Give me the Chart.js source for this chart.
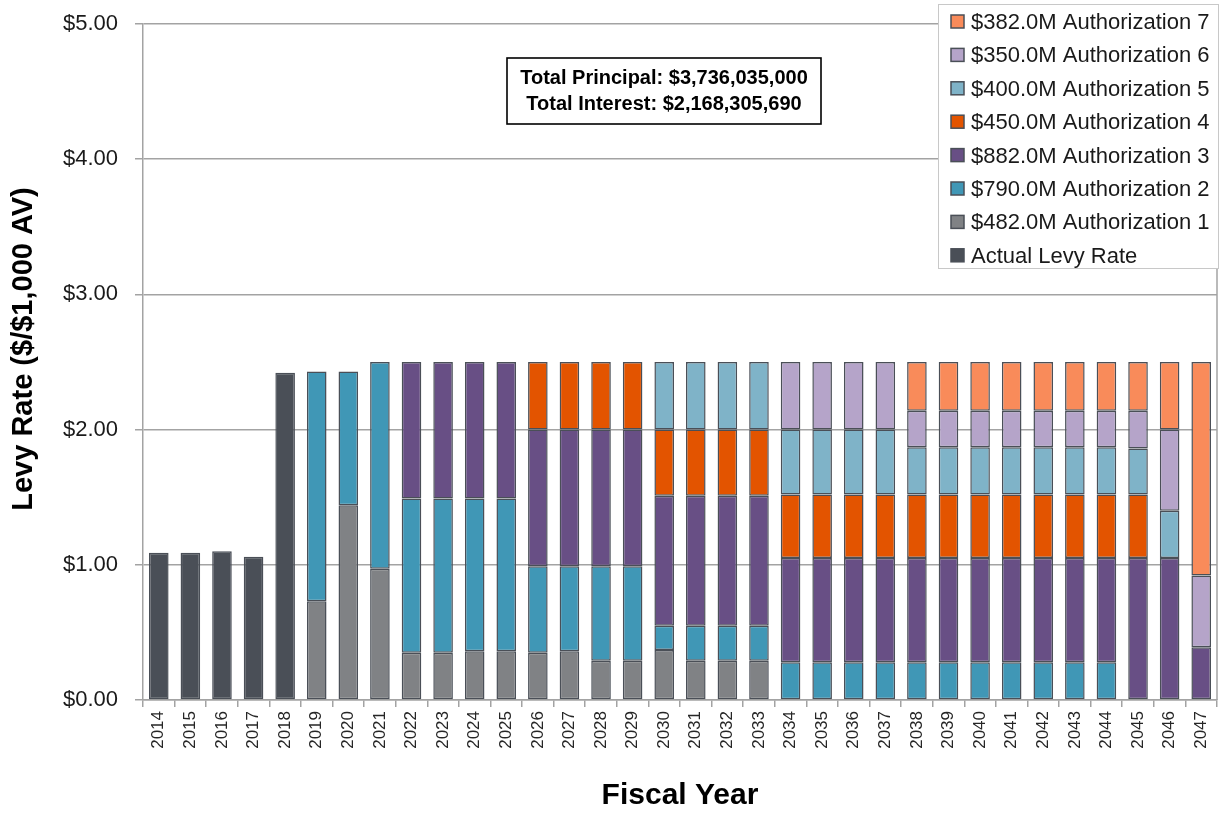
<!DOCTYPE html>
<html>
<head>
<meta charset="utf-8">
<script src="https://cdn.jsdelivr.net/npm/chart.js@4.4.1/dist/chart.umd.min.js"></script>
<style>
  html, body { margin: 0; padding: 0; background: #ffffff; }
  #wrap { width: 1225px; height: 815px; }
</style>
</head>
<body>
<div id="wrap"><canvas id="levyChart" width="1225" height="815"></canvas></div>
<script>
// Fiscal years on the category axis
const fiscalYears = ['2014','2015','2016','2017','2018','2019','2020','2021','2022','2023','2024','2025',
  '2026','2027','2028','2029','2030','2031','2032','2033','2034','2035','2036','2037','2038','2039',
  '2040','2041','2042','2043','2044','2045','2046','2047'];

// Levy rate components ($ per $1,000 assessed value), one entry per fiscal year
const actualLevy = [1.09,1.09,1.10,1.06,2.42,0,0,0,0,0,0,0,0,0,0,0,0,0,0,0,0,0,0,0,0,0,0,0,0,0,0,0,0,0];
const auth1 = [0,0,0,0,0,0.73,1.44,0.97,0.35,0.35,0.36,0.36,0.35,0.36,0.29,0.29,0.37,0.29,0.29,0.29,
  0,0,0,0,0,0,0,0,0,0,0,0,0,0];
const auth2 = [0,0,0,0,0,1.70,0.99,1.53,1.14,1.14,1.13,1.13,0.64,0.63,0.70,0.70,0.18,0.26,0.26,0.26,
  0.28,0.28,0.28,0.28,0.28,0.28,0.28,0.28,0.28,0.28,0.28,0,0,0];
const auth3 = [0,0,0,0,0,0,0,0,1.01,1.01,1.01,1.01,1.01,1.01,1.01,1.01,0.96,0.96,0.96,0.96,
  0.77,0.77,0.77,0.77,0.77,0.77,0.77,0.77,0.77,0.77,0.77,1.05,1.05,0.39];
const auth4 = [0,0,0,0,0,0,0,0,0,0,0,0,0.50,0.50,0.50,0.50,0.49,0.49,0.49,0.49,
  0.47,0.47,0.47,0.47,0.47,0.47,0.47,0.47,0.47,0.47,0.47,0.47,0,0];
const auth5 = [0,0,0,0,0,0,0,0,0,0,0,0,0,0,0,0,0.50,0.50,0.50,0.50,
  0.48,0.48,0.48,0.48,0.35,0.35,0.35,0.35,0.35,0.35,0.35,0.34,0.35,0];
const auth6 = [0,0,0,0,0,0,0,0,0,0,0,0,0,0,0,0,0,0,0,0,
  0.50,0.50,0.50,0.50,0.27,0.27,0.27,0.27,0.27,0.27,0.27,0.28,0.60,0.53];
const auth7 = [0,0,0,0,0,0,0,0,0,0,0,0,0,0,0,0,0,0,0,0,
  0,0,0,0,0.36,0.36,0.36,0.36,0.36,0.36,0.36,0.36,0.50,1.58];

// Series names, bottom of the stack first
const seriesNames = ['Actual Levy Rate','$482.0M Authorization 1','$790.0M Authorization 2',
  '$882.0M Authorization 3','$450.0M Authorization 4','$400.0M Authorization 5',
  '$350.0M Authorization 6','$382.0M Authorization 7'];
const seriesValues = [actualLevy, auth1, auth2, auth3, auth4, auth5, auth6, auth7];
const seriesColors = ['#4a4f57','#808285','#4097b6','#684f85','#e35400','#7fb3c8','#b5a4c9','#f98b5a'];

const yTickValues = [0, 1, 2, 3, 4, 5];
const yAxisTitle = 'Levy Rate ($/$1,000 AV)';
const summaryLines = ['Total Principal: $3,736,035,000', 'Total Interest: $2,168,305,690'];

const FONT = '"Liberation Sans", Arial, sans-serif';
const OUTLINE = '#4a4f57';
const AXIS_GREY = '#a3a3a3';

const datasets = seriesValues.map((vals, i) => ({
  label: seriesNames[i],
  data: vals.map(v => (v === 0 ? null : v)),
  backgroundColor: seriesColors[i],
  borderColor: i === 0 ? seriesColors[0] : OUTLINE,
  borderWidth: 1.5,
  borderSkipped: false,
  stack: 'levy',
  barPercentage: 0.62,
  categoryPercentage: 1.0
}));

// Right-hand frame line, vertical axis title, summary box and key
const overlays = {
  id: 'overlays',
  beforeDatasetsDraw(chart) {
    const { ctx, chartArea } = chart;
    ctx.save();
    ctx.strokeStyle = AXIS_GREY;
    ctx.lineWidth = 1.5;
    ctx.beginPath();
    ctx.moveTo(chartArea.right, chartArea.top);
    ctx.lineTo(chartArea.right, chartArea.bottom);
    ctx.stroke();
    ctx.restore();
  },
  afterDraw(chart) {
    const ctx = chart.ctx;
    ctx.save();

    // vertical axis title
    ctx.save();
    ctx.translate(24, 349);
    ctx.rotate(-Math.PI / 2);
    ctx.fillStyle = '#000000';
    ctx.font = 'bold 29px ' + FONT;
    ctx.textAlign = 'center';
    ctx.textBaseline = 'middle';
    ctx.fillText(yAxisTitle, 0, 0);
    ctx.restore();

    // summary box
    ctx.fillStyle = '#ffffff';
    ctx.fillRect(507, 58, 314, 66);
    ctx.strokeStyle = '#000000';
    ctx.lineWidth = 1.6;
    ctx.strokeRect(507, 58, 314, 66);
    ctx.fillStyle = '#000000';
    ctx.font = 'bold 20px ' + FONT;
    ctx.textAlign = 'center';
    ctx.textBaseline = 'middle';
    ctx.fillText(summaryLines[0], 664, 78);
    ctx.fillText(summaryLines[1], 664, 104);

    // key, top series first
    ctx.fillStyle = '#ffffff';
    ctx.fillRect(938, 4, 280, 264);
    ctx.strokeStyle = '#c8c8c8';
    ctx.lineWidth = 1;
    ctx.strokeRect(938.5, 4.5, 280, 264);
    ctx.textAlign = 'left';
    ctx.font = '22px ' + FONT;
    const items = chart.data.datasets.slice().reverse();
    items.forEach((d, i) => {
      const cy = 22 + i * 33.4;
      ctx.fillStyle = d.backgroundColor;
      ctx.fillRect(951, cy - 7, 13, 13);
      ctx.strokeStyle = OUTLINE;
      ctx.lineWidth = 1.5;
      ctx.strokeRect(951, cy - 7, 13, 13);
      ctx.fillStyle = '#1a1a1a';
      ctx.fillText(d.label, 971, cy + 1);
    });
    ctx.restore();
  }
};

new Chart(document.getElementById('levyChart'), {
  type: 'bar',
  data: { labels: fiscalYears, datasets },
  options: {
    responsive: false,
    animation: false,
    events: [],
    layout: { padding: { top: 24, right: 8, left: 0, bottom: 0 } },
    plugins: { legend: { display: false }, tooltip: { enabled: false } },
    scales: {
      x: {
        stacked: true,
        offset: true,
        grid: { drawOnChartArea: false, drawTicks: true, tickLength: 7, color: AXIS_GREY, lineWidth: 1.5, offset: true },
        border: { color: AXIS_GREY, width: 1.5 },
        ticks: { minRotation: 90, maxRotation: 90, autoSkip: false, padding: 4, color: '#262626',
                 font: { family: FONT, size: 17 } },
        title: { display: true, text: 'Fiscal Year', color: '#000000', padding: { top: 0, bottom: 1 },
                 font: { family: FONT, size: 30, weight: 'bold' } },
        afterFit(scale) { scale.height = 115; scale.paddingLeft = 0; scale.paddingRight = 0; }
      },
      y: {
        stacked: true,
        min: 0,
        max: 5,
        afterBuildTicks(scale) { scale.ticks = yTickValues.map(v => ({ value: v })); },
        grid: { color: AXIS_GREY, lineWidth: 1.5, tickLength: 8 },
        border: { color: AXIS_GREY, width: 1.5 },
        ticks: { padding: 17, color: '#1a1a1a', font: { family: FONT, size: 22 },
                 callback: v => '$' + Number(v).toFixed(2) },
        afterFit(scale) { scale.width = 143; scale.paddingTop = 0; scale.paddingBottom = 0; }
      }
    }
  },
  plugins: [overlays]
});
</script>
</body>
</html>
